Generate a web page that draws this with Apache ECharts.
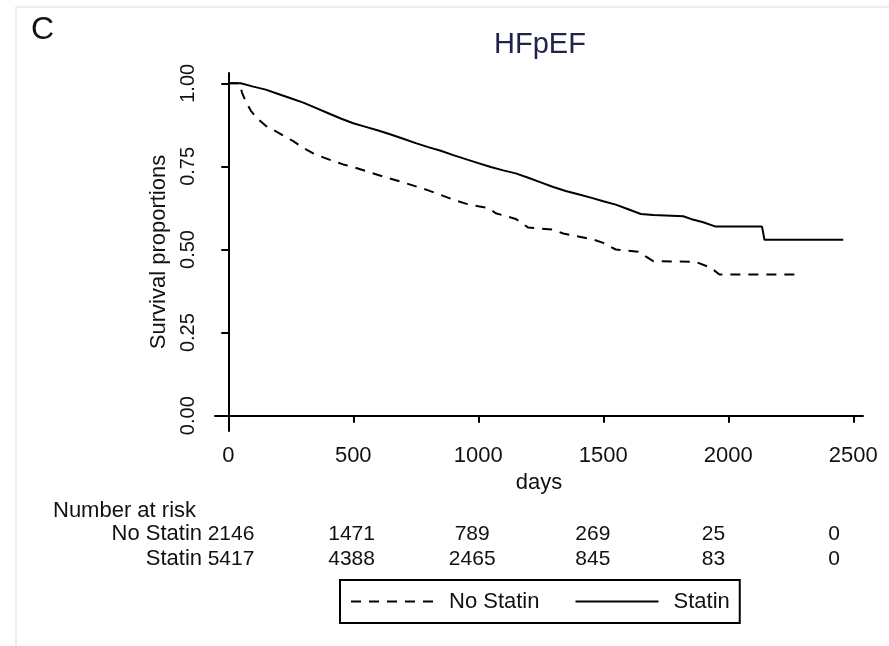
<!DOCTYPE html>
<html>
<head>
<meta charset="utf-8">
<title>HFpEF survival</title>
<script src="https://cdn.jsdelivr.net/npm/echarts@6/dist/echarts.min.js"></script>
<style>
  html, body { margin: 0; padding: 0; background: #ffffff; }
  #chart { width: 889px; height: 646px; }
</style>
</head>
<body>
<div id="chart"></div>
<script>
// Kaplan-Meier estimates (day, survival proportion) for each group
const daysNoStatin = [0, 45, 55, 70, 90, 115, 150, 180, 220, 260, 300, 340, 380, 420, 460, 500, 550, 600, 650, 700, 750, 800, 850, 900, 950, 1000, 1040, 1070, 1150, 1200, 1300, 1340, 1460, 1500, 1550, 1640, 1700, 1870, 1930, 1965, 2270];
const survNoStatin = [1.000, 1.000, 0.972, 0.945, 0.918, 0.895, 0.872, 0.860, 0.843, 0.826, 0.806, 0.789, 0.777, 0.766, 0.756, 0.748, 0.736, 0.724, 0.713, 0.702, 0.690, 0.678, 0.664, 0.650, 0.638, 0.630, 0.625, 0.609, 0.592, 0.566, 0.560, 0.548, 0.530, 0.520, 0.500, 0.493, 0.465, 0.463, 0.445, 0.425, 0.425];

const daysStatin = [0, 50, 100, 150, 200, 250, 300, 350, 400, 450, 500, 550, 600, 650, 700, 750, 800, 850, 900, 950, 1000, 1050, 1100, 1150, 1200, 1250, 1300, 1350, 1400, 1450, 1500, 1550, 1600, 1650, 1700, 1820, 1850, 1900, 1950, 2135, 2145, 2460];
const survStatin = [1.000, 1.000, 0.990, 0.981, 0.968, 0.955, 0.942, 0.926, 0.910, 0.894, 0.880, 0.869, 0.858, 0.846, 0.833, 0.820, 0.808, 0.797, 0.784, 0.772, 0.760, 0.748, 0.738, 0.729, 0.716, 0.702, 0.688, 0.676, 0.666, 0.656, 0.645, 0.635, 0.621, 0.607, 0.604, 0.600, 0.592, 0.582, 0.569, 0.569, 0.529, 0.529];

// Axis ticks
const xTicks = [0, 500, 1000, 1500, 2000, 2500];
const yTicks = [0, 0.25, 0.5, 0.75, 1];

// Number at risk table
const groups = ['No Statin', 'Statin'];
const riskDays = [0, 500, 1000, 1500, 2000, 2500];
const riskNoStatin = [2146, 1471, 789, 269, 25, 0];
const riskStatin = [5417, 4388, 2465, 845, 83, 0];

const FONT = "'Liberation Sans', Arial, sans-serif";
const INK = '#111111';

function zip(xs, ys) { return xs.map((x, i) => [x, ys[i]]); }

const riskData = [];
riskDays.forEach((d, i) => {
  riskData.push([d, 0, riskNoStatin[i]]);
  riskData.push([d, 1, riskStatin[i]]);
});

const chart = echarts.init(document.getElementById('chart'), null, { renderer: 'canvas' });

chart.setOption({
  backgroundColor: '#ffffff',
  animation: false,
  title: {
    text: 'HFpEF',
    left: 540,
    top: 30,
    textAlign: 'center',
    padding: 0,
    textStyle: { fontFamily: FONT, fontSize: 29, fontWeight: 'normal', color: '#20244a', lineHeight: 29 }
  },
  graphic: [
    { type: 'rect', shape: { x: 16, y: 7, width: 900, height: 700 }, style: { fill: 'none', stroke: '#e3ebee', lineWidth: 1.5 }, silent: true },
    { type: 'text', x: 31, y: 30, style: { text: 'C', font: '32px ' + FONT, fill: INK, verticalAlign: 'middle', align: 'left' } },
    { type: 'text', x: 53, y: 511, style: { text: 'Number at risk', font: '22px ' + FONT, fill: INK, verticalAlign: 'middle', align: 'left' } }
  ],
  legend: {
    data: ['No Statin', 'Statin'],
    left: 340,
    top: 580,
    orient: 'horizontal',
    padding: [10, 10, 10, 10],
    borderColor: '#000',
    borderWidth: 2,
    borderRadius: 0,
    itemWidth: 83,
    itemHeight: 14,
    itemGap: 35,
    selectedMode: false,
    itemStyle: { opacity: 0 },
    textStyle: { fontFamily: FONT, fontSize: 22, color: INK, lineHeight: 23, padding: [0, 0, 0, 10] }
  },
  grid: [
    { left: 215, right: 26, top: 73, bottom: 215, containLabel: false },
    { left: 231, right: 55, top: 521.7, height: 50, containLabel: false }
  ],
  xAxis: [
    {
      gridIndex: 0,
      type: 'value',
      min: -53,
      max: 2539,
      name: 'days',
      nameLocation: 'middle',
      nameGap: 27,
      nameTextStyle: { fontFamily: FONT, fontSize: 22, color: INK },
      axisLine: { show: true, lineStyle: { color: '#000', width: 2 } },
      axisTick: { show: true, length: 7, lineStyle: { color: '#000', width: 2 }, customValues: xTicks },
      axisLabel: { show: true, margin: 14, fontFamily: FONT, fontSize: 22, color: INK, customValues: xTicks, formatter: v => String(v) },
      splitLine: { show: false }
    },
    {
      gridIndex: 1,
      type: 'value',
      min: 0,
      max: 2500,
      show: false
    }
  ],
  yAxis: [
    {
      gridIndex: 0,
      type: 'value',
      min: -0.046,
      max: 1.031,
      name: 'Survival proportions',
      nameLocation: 'middle',
      nameRotate: 90,
      nameGap: 28,
      nameTextStyle: { fontFamily: FONT, fontSize: 22, color: INK },
      axisLine: { show: true, lineStyle: { color: '#000', width: 2 } },
      axisTick: { show: true, length: 7, lineStyle: { color: '#000', width: 2 }, customValues: yTicks },
      axisLabel: {
        show: true, rotate: 90, margin: 17, fontFamily: FONT, fontSize: 20, color: INK,
        customValues: yTicks,
        formatter: v => v.toFixed(2)
      },
      splitLine: { show: false }
    },
    {
      gridIndex: 1,
      type: 'category',
      data: groups,
      inverse: true,
      axisLine: { show: false },
      axisTick: { show: false },
      axisLabel: { interval: 0, margin: 29, fontFamily: FONT, fontSize: 22, color: INK },
      splitLine: { show: false }
    }
  ],
  series: [
    {
      name: 'No Statin',
      type: 'line',
      xAxisIndex: 0,
      yAxisIndex: 0,
      symbol: 'none',
      data: zip(daysNoStatin, survNoStatin),
      lineStyle: { color: '#000', width: 2, type: [10, 8] },
      itemStyle: { color: '#000' }
    },
    {
      name: 'Statin',
      type: 'line',
      xAxisIndex: 0,
      yAxisIndex: 0,
      symbol: 'none',
      data: zip(daysStatin, survStatin),
      lineStyle: { color: '#000', width: 2, type: 'solid' },
      itemStyle: { color: '#000' }
    },
    {
      name: 'at risk',
      type: 'scatter',
      xAxisIndex: 1,
      yAxisIndex: 1,
      symbolSize: 1,
      itemStyle: { color: 'transparent', opacity: 1 },
      data: riskData,
      label: {
        show: true,
        position: 'inside',
        formatter: p => String(p.value[2]),
        fontFamily: FONT,
        fontSize: 21,
        color: INK,
        textBorderWidth: 0
      }
    }
  ]
});
</script>
</body>
</html>
